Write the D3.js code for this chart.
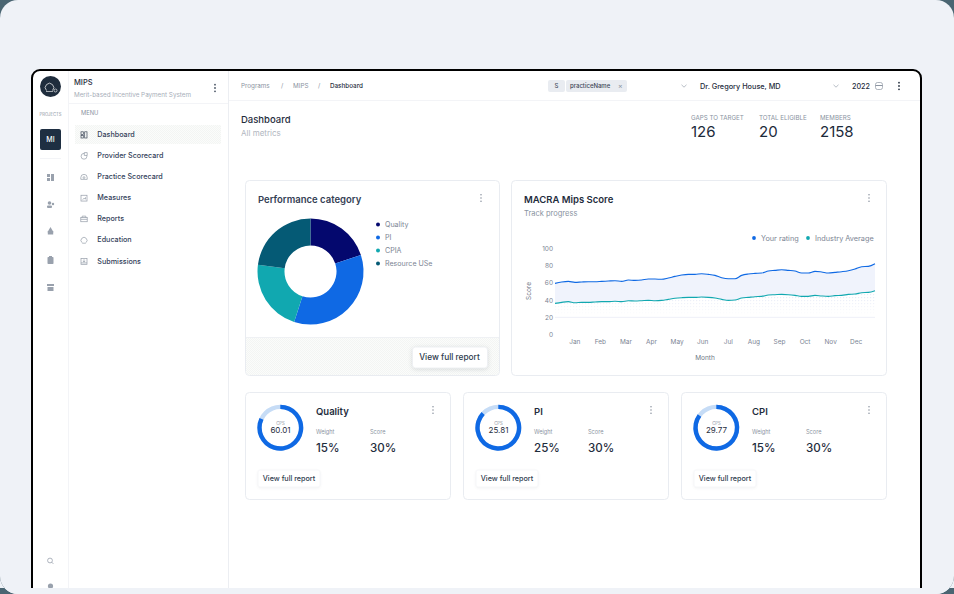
<!DOCTYPE html>
<html><head><meta charset="utf-8">
<script src="https://cdn.jsdelivr.net/npm/d3@7"></script>
<style>html,body{margin:0;padding:0;background:#4a6572;overflow:hidden}svg{display:block}text{font-family:Inter,"Noto Sans",sans-serif}</style>
</head><body><svg id="c" width="954" height="594"></svg>
<script>
const menuItems=["Dashboard","Provider Scorecard","Practice Scorecard","Measures","Reports","Education","Submissions"];
const donutLabels=["Quality","PI","CPIA","Resource USe"];
const donutValues=[20,35,22,23];
const donutColors=["#04086e","#0f69e4","#11a8b0","#055a75"];
const months=["Jan","Feb","Mar","Apr","May","Jun","Jul","Aug","Sep","Oct","Nov","Dec"];
const yTicks=[0,20,40,60,80,100];
const yourRating=[59.3,60.9,61.6,60.5,60.9,61.2,61.2,61.6,62,62.4,61.6,63.2,62.8,63.2,64.3,64.3,64,65.5,67.4,69,69.8,69.8,70.5,69.8,68.6,65.9,64.7,64.7,68.6,70.2,70.9,71.3,73.6,74.4,75.2,74.4,73.6,71.3,71.3,73.3,72.5,71.3,72.1,72.9,74,76,78.7,79.1,82.2];
const industryAvg=[36,37.2,38,36.8,37.2,37.2,37.6,38,38,38.4,38,39.1,38.8,39.1,39.5,39.1,39.5,40.7,41.9,42.6,43,43,43.4,43,42.2,40.7,39.5,39.9,42.2,43,43.8,44.2,45.7,46.1,46.5,46.1,45.3,44.2,44.2,45.3,44.6,44.2,45,45.3,46.5,46.9,48.4,48.8,50.8];
const cardTitles=["Quality","PI","CPI"];
const cardCps=["60.01","25.81","29.77"];
const cardWeights=["15%","25%","15%"];
const cardScores=["30%","30%","30%"];
const gaugeFill=[82,87,85];
const stats=[["GAPS TO TARGET","126"],["TOTAL ELIGIBLE","20"],["MEMBERS","2158"]];

const DARK="#1f2d3d",GRAY="#8a93a1",BORDER="#e9ecf1",FAINT="#f3f4f7";
const svg=d3.select("#c");
const defs=svg.append("defs");
const pat=(id,c)=>{const p=defs.append("pattern").attr("id",id).attr("width",2).attr("height",2).attr("patternUnits","userSpaceOnUse");
 p.append("rect").attr("width",2).attr("height",2).attr("fill","#fbfcfb");
 p.append("rect").attr("width",1).attr("height",1).attr("fill",c);
 p.append("rect").attr("x",1).attr("y",1).attr("width",1).attr("height",1).attr("fill",c);};
pat("dots","#f3f5f3");
const T=(g,x,y,s,o={})=>g.append("text").attr("x",x).attr("y",y).text(s)
 .attr("font-size",o.size||7.5).attr("font-weight",o.w||400).attr("fill",o.c||DARK).attr("text-anchor",o.a||"start").attr("letter-spacing",o.ls||null);
const R=(g,x,y,w,h,o={})=>g.append("rect").attr("x",x).attr("y",y).attr("width",w).attr("height",h).attr("rx",o.r||0)
 .attr("fill",o.f||"#fff").attr("stroke",o.s||"none").attr("stroke-width",o.sw||1);
const L=(g,x1,y1,x2,y2,c=BORDER)=>g.append("line").attr("x1",x1).attr("y1",y1).attr("x2",x2).attr("y2",y2).attr("stroke",c);
const kebab=(g,x,y,c="#8f97a3",r=.8)=>[-3,0,3].forEach(d=>g.append("circle").attr("cx",x).attr("cy",y+d*1.1).attr("r",r).attr("fill",c));

// page
R(svg,0,0,954,594,{f:"#eff2f7",r:18});
const win=svg.append("g");
R(win,32,70,889,530,{f:"#fff",s:"#000",sw:2,r:8});
// chrome
L(win,68.5,71,68.5,588,FAINT);L(win,228.5,71,228.5,588,"#eceef2");
L(win,69,103.5,228,103.5,FAINT);L(win,229,100.5,920,100.5,FAINT);
L(win,40,158.5,61,158.5,FAINT);

// rail
win.append("circle").attr("cx",50.5).attr("cy",86.5).attr("r",10.5).attr("fill",DARK);
win.append("path").attr("d","M46.5,90.5a4.2,4.2 0 1 1 6,0").attr("fill","none").attr("stroke","#fff").attr("stroke-width",.7);
win.append("path").attr("d","M46,91.5H53").attr("stroke","#fff").attr("stroke-width",.6);
win.append("circle").attr("cx",55.5).attr("cy",90.5).attr("r",1.5).attr("fill","none").attr("stroke","#fff").attr("stroke-width",.6);
T(win,50.5,116,"PROJECTS",{size:4.2,c:GRAY,a:"middle"});
R(win,40,129,21,21,{f:"#1e2f42",r:2});
T(win,50.5,141.5,"MI",{size:7,w:500,c:"#fff",a:"middle"});
const rc="#99a1ad";
let g=win.append("g");
R(g,47,174,3,3,{f:rc});R(g,47,178,3,3,{f:rc});R(g,51,174,3,7,{f:rc});
g.append("circle").attr("cx",49.5).attr("cy",203).attr("r",1.8).attr("fill",rc);
R(g,47,205.5,5,2.5,{f:rc,r:1});g.append("circle").attr("cx",53).attr("cy",204).attr("r",1.2).attr("fill",rc);
g.append("path").attr("d",d3.symbol(d3.symbolTriangle,16)()).attr("transform","translate(50.5,230.5)").attr("fill",rc);
R(g,47.8,231,5.4,3.5,{f:rc});
R(g,47.5,257,6,7,{f:rc,r:.8});R(g,49,256,3,1.5,{f:rc});
R(g,47,284,7,2,{f:rc});R(g,47.5,287,6,4,{f:rc});
g.append("circle").attr("cx",50).attr("cy",560.5).attr("r",2.4).attr("fill","none").attr("stroke",rc).attr("stroke-width",.8);
L(g,51.8,562.3,53.2,563.7,rc);
g.append("circle").attr("cx",50.5).attr("cy",586).attr("r",2.6).attr("fill",rc);

// side panel
T(win,74,85,"MIPS",{size:7.5,w:500});
T(win,74,96.5,"Merit-based Incentive Payment System",{size:6.3,c:"#a7aeb9"});
kebab(win,215,88,"#4a5565",.9);
T(win,81,115,"MENU",{size:5.8,w:400,c:GRAY});
R(win,75,125,146,19,{f:"url(#dots)"});
const yMenu=d3.scalePoint().domain(menuItems).range([134.5,261]);
menuItems.forEach((m,i)=>{const y=yMenu(m);
 T(win,97.3,y+2.5,m,{size:7.2,w:500,c:"#33415a"});
 const c=i==0?"#3b4656":"#949ca8";
 const ig=win.append("g").attr("transform",`translate(84,${y+.3})`).attr("fill","none").attr("stroke",c).attr("stroke-width",.7);
 if(i==0){ig.append("rect").attr("x",-3).attr("y",-3).attr("width",2.3).attr("height",2.6);ig.append("rect").attr("x",-3).attr("y",.6).attr("width",2.3).attr("height",2.6);ig.append("rect").attr("x",.7).attr("y",-3).attr("width",2.3).attr("height",6.2);}
 if(i==1){ig.append("circle").attr("r",2.9).attr("cy",.4);ig.append("path").attr("d","M.3,-3.3H3.2V-.4H.3Z").attr("fill","#fff");}
 if(i==2){ig.append("path").attr("d","M-3.2,2.4V.6a3.2,3.2 0 0 1 6.4,0V2.4Z");ig.append("circle").attr("r",.9).attr("cy",.6);}
 if(i==3){ig.append("rect").attr("x",-3).attr("y",-2.8).attr("width",6).attr("height",5.8);ig.append("path").attr("d","M-1.5,1.6L0,.3L1.5,1V-.8");}
 if(i==4){ig.append("rect").attr("x",-3.2).attr("y",-1.6).attr("width",6.4).attr("height",4.2);ig.append("path").attr("d","M-1.8,-1.6V-3H1.8V-1.6M-3.2,.2H3.2");}
 if(i==5){ig.append("path").attr("d","M-2,2.4a3,3 0 1 1 4,0");ig.append("path").attr("d","M-1.8,3H1.8");}
 if(i==6){ig.append("rect").attr("x",-3).attr("y",-2.8).attr("width",6).attr("height",5.8);ig.append("path").attr("d","M0,-2V.6M-1.2,-.4L0,.8L1.2,-.4M-3,1.6H3");}
});

// top bar
const crumb=[["Programs",241,GRAY,400],["/",281,GRAY,400],["MIPS",293,GRAY,400],["/",318,GRAY,400],["Dashboard",330,DARK,500]];
crumb.forEach(c=>T(win,c[1],88,c[0],{size:6.3,c:c[2],w:c[3]}));
R(win,548,80,17,12,{f:"#e9ecf1",r:2});T(win,556.5,88,"S",{size:6,w:500,a:"middle",c:"#4b5665"});
R(win,566,80,61,12,{f:"#e9ecf1",r:2});T(win,570,88,"practiceName",{size:6,w:500,c:"#3b4656"});
T(win,618,88.3,"×",{size:7,c:"#8c95a2"});
const chev=(x,y)=>win.append("path").attr("d",`M${x-2.5},${y-1.2}L${x},${y+1.2}L${x+2.5},${y-1.2}`).attr("fill","none").attr("stroke","#9aa2ae").attr("stroke-width",.7);
chev(684,86);chev(836,86);
T(win,700,89.3,"Dr. Gregory House, MD",{size:7.3,w:500});
T(win,852,88.5,"2022",{size:7.2,w:500});
win.append("rect").attr("x",875.5).attr("y",82.5).attr("width",7).attr("height",7).attr("rx",2).attr("fill","none").attr("stroke","#8c95a2").attr("stroke-width",.7);
L(win,875.5,85.5,882.5,85.5,"#8c95a2");
kebab(win,899,86,"#2a3544",.9);

// heading
T(win,241,123,"Dashboard",{size:9.5,w:500});
T(win,241,136,"All metrics",{size:8,c:"#b0b6c0"});
const statX=d3.scaleOrdinal().domain(stats.map(s=>s[0])).range([691,759,820]);
stats.forEach(s=>{T(win,statX(s[0]),120,s[0],{size:6.2,w:400,c:GRAY});T(win,statX(s[0]),137,s[1],{size:15,w:400,c:"#1c2a3a"});});

// Performance card
R(win,245.5,180.5,254,195,{f:"#fff",s:BORDER,r:4});
win.append("path").attr("d","M246,337H499V371a4,4 0 0 1-4,4H250a4,4 0 0 1-4,-4Z").attr("fill","url(#dots)");
L(win,246,337.5,499,337.5,"#eff1f4");
T(win,258,203,"Performance category",{size:9.5,w:600,c:"#344054"});
kebab(win,481,198);
const pie=d3.pie().sort(null)(donutValues);
const arc=d3.arc().innerRadius(26).outerRadius(53);
win.append("g").attr("transform","translate(310.5,271.5)").selectAll("path").data(pie).join("path").attr("d",arc).attr("fill",(d,i)=>donutColors[i]);
const yLeg=d3.scalePoint().domain(donutLabels).range([224.5,263.5]);
donutLabels.forEach((l,i)=>{win.append("circle").attr("cx",378).attr("cy",yLeg(l)).attr("r",2).attr("fill",donutColors[i]);
 T(win,385,yLeg(l)+2.6,l,{size:7.1,c:"#7c8594"});});
R(win,412.5,347,75,21,{f:"#fff",s:"#eef0f3",r:3}).style("filter","drop-shadow(0 1px 2px rgba(30,40,60,.14))");
T(win,449.5,360,"View full report",{size:8.3,w:500,a:"middle",c:"#2c3a4c"});

// MACRA card
R(win,511.5,180.5,375,195,{f:"#fff",s:BORDER,r:4});
T(win,524,203,"MACRA Mips Score",{size:9.5,w:600});
T(win,524,216,"Track progress",{size:7.5,c:GRAY});
kebab(win,869,198);
win.append("circle").attr("cx",754).attr("cy",238).attr("r",1.9).attr("fill","#0f69e4");
T(win,761,240.6,"Your rating",{size:7.3,c:"#7c8594"});
win.append("circle").attr("cx",808).attr("cy",238).attr("r",1.9).attr("fill","#11a8b0");
T(win,815,240.6,"Industry Average",{size:7.3,c:"#7c8594"});
const x=d3.scaleLinear().domain([0,yourRating.length-1]).range([555,875]);
const y=d3.scaleLinear().domain([0,100]).range([334.3,248.4]);
const xb=d3.scaleBand().domain(months).range([562,869]);
const chart=win.append("g");
// fading dotted fill under industry line
const grad=defs.append("linearGradient").attr("id","fade").attr("x1",0).attr("x2",0).attr("y1",0).attr("y2",1);
grad.append("stop").attr("offset",.3).attr("stop-color","#fff");grad.append("stop").attr("offset",1).attr("stop-color","#000");
defs.append("mask").attr("id","fm").attr("maskContentUnits","objectBoundingBox").append("rect").attr("width",1).attr("height",1).attr("fill","url(#fade)");
const p2=defs.append("pattern").attr("id","dots2").attr("width",3).attr("height",3).attr("patternUnits","userSpaceOnUse");
p2.append("rect").attr("width",1.2).attr("height",1.2).attr("fill","#e9ecf7");
const area0=d3.area().x((d,i)=>x(i)).y0(y(22)).y1(d=>y(d)).curve(d3.curveMonotoneX);
chart.append("path").attr("d",area0(industryAvg)).attr("fill","url(#dots2)").attr("mask","url(#fm)");
chart.append("g").selectAll("line").data(yTicks.filter(t=>t==20)).join("line").attr("x1",555).attr("x2",875).attr("y1",d=>y(d)+.2).attr("y2",d=>y(d)+.2).attr("stroke","#eef0f8");
const band=d3.area().x((d,i)=>x(i)).y0((d,i)=>y(industryAvg[i])).y1(d=>y(d)).curve(d3.curveMonotoneX);
chart.append("path").attr("d",band(yourRating)).attr("fill","#f0f3fc");
const line=d3.line().x((d,i)=>x(i)).y(d=>y(d)).curve(d3.curveMonotoneX);
chart.append("path").attr("d",line(industryAvg)).attr("fill","none").attr("stroke","#11a8b0").attr("stroke-width",1.1);
chart.append("path").attr("d",line(yourRating)).attr("fill","none").attr("stroke","#0f69e4").attr("stroke-width",1.1);
const ya=d3.axisLeft(y).tickValues(yTicks).tickSize(0).tickPadding(0);
const ag=chart.append("g").attr("transform","translate(553,0)").call(ya);
ag.select(".domain").remove();
ag.selectAll("text").attr("font-size",6.5).attr("fill","#7c8594").attr("font-family","Inter").attr("dy","0.34em");
const xa=d3.axisBottom(xb).tickSize(0).tickPadding(0);
const bg=chart.append("g").attr("transform","translate(0,339.5)").call(xa);
bg.select(".domain").remove();
bg.selectAll("text").attr("font-size",6.5).attr("fill","#7c8594").attr("font-family","Inter").attr("dy","0.71em");
T(chart,705,360,"Month",{size:6.5,a:"middle",c:"#6f7886"});
chart.append("text").attr("transform","translate(531,291) rotate(-90)").attr("text-anchor","middle").attr("font-size",6.5).attr("fill","#6f7886").text("Score");

// small cards
const gaugeArc=d3.arc().innerRadius(18.6).outerRadius(23);
cardTitles.forEach((t,i)=>{
 const g=win.append("g").attr("transform",`translate(${218*i},0)`);
 R(g,245.5,392.5,205,107,{f:"#fff",s:BORDER,r:4});
 const gg=g.append("g").attr("transform","translate(280.3,427.7)");
 const scale=d3.scaleLinear().domain([0,100]).range([0,2*Math.PI]);
 gg.append("path").attr("d",gaugeArc({startAngle:0,endAngle:2*Math.PI})).attr("fill","#c6dcf6");
 gg.append("path").attr("d",gaugeArc({startAngle:0,endAngle:scale(gaugeFill[i])})).attr("fill","#0f69e4");
 T(g,280.5,424.5,"CPS",{size:4.2,a:"middle",c:GRAY});
 T(g,280.5,432.5,cardCps[i],{size:8,a:"middle",w:400});
 T(g,316,415,t,{size:9.5,w:600});
 T(g,316,433.5,"Weight",{size:5.6,c:GRAY});
 T(g,370,433.5,"Score",{size:5.6,c:GRAY});
 T(g,316,451.5,cardWeights[i],{size:11.6,w:500});
 T(g,370,451.5,cardScores[i],{size:11.6,w:500});
 kebab(g,433,410);
 R(g,258,470,62,17,{f:"#fff",s:"#f6f7f9",r:2}).style("filter","drop-shadow(0 1px 1px rgba(30,40,60,.05))");
 T(g,289,481,"View full report",{size:7.2,w:500,a:"middle",c:"#2c3a4c"});
});

// bottom cover band and rounded bottom of page
svg.append("path").attr("d","M0,588H954V576a18,18 0 0 1-18,18H18a18,18 0 0 1-18,-18Z").attr("fill","#eff2f7");
</script></body></html>
